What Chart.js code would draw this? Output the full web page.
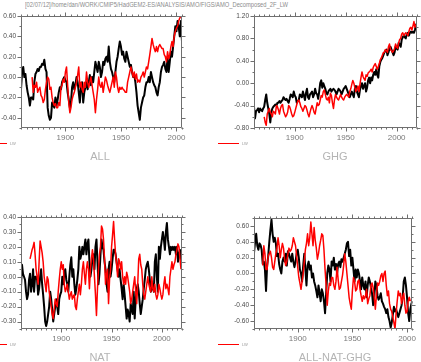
<!DOCTYPE html>
<html>
<head>
<meta charset="utf-8">
<script src="https://cdn.jsdelivr.net/npm/chart.js@4.4.1/dist/chart.umd.min.js"></script>
<style>
  body { margin: 0; background: #fff; }
  #page { position: relative; width: 421px; height: 362px; overflow: hidden;
          font-family: "Liberation Sans", Arial, sans-serif; }
  #page canvas { position: absolute; }
  .lbl { position: absolute; color: #b4b4b4; font-size: 11px; line-height: 11px;
         transform: translateX(-50%); white-space: nowrap; }
  .key { position: absolute; height: 0; border-top: 1.5px solid #ff0000; }
  .keytxt { position: absolute; font-size: 4px; line-height: 4px; color: #999; }
  #title { position: absolute; left: 25px; top: 1px; font-size: 7px; line-height: 7px;
           color: #8c8c8c; white-space: nowrap; transform-origin: 0 0; }
</style>
</head>
<body>
<div id="page">
  <div id="title">[02/07/12]/home/dan/WORK/CMIP5/HadGEM2-ES/ANALYSIS/AMO/FIGS/AMO_Decomposed_2F_LW</div>
  <canvas id="cAll" width="210" height="150" style="left:0;top:0"></canvas>
  <canvas id="cGhg" width="211" height="150" style="left:210px;top:0"></canvas>
  <canvas id="cNat" width="210" height="172" style="left:0;top:190px"></canvas>
  <canvas id="cAng" width="211" height="172" style="left:210px;top:190px"></canvas>

  <div class="key" style="left:-14px;top:143px;width:21px"></div><div class="keytxt" style="left:10px;top:142px">LW</div>
  <div class="key" style="left:218px;top:143px;width:21px"></div><div class="keytxt" style="left:242px;top:142px">LW</div>
  <div class="key" style="left:-14px;top:344px;width:21px"></div><div class="keytxt" style="left:10px;top:343px">LW</div>
  <div class="key" style="left:218px;top:344px;width:21px"></div><div class="keytxt" style="left:242px;top:343px">LW</div>

  <div class="lbl" style="left:100px;top:151px">ALL</div>
  <div class="lbl" style="left:335px;top:151px">GHG</div>
  <div class="lbl" style="left:100px;top:352px">NAT</div>
  <div class="lbl" style="left:335px;top:352px">ALL-NAT-GHG</div>
</div>
<script>
// ===== DATA (annual anomalies) =====

const yearTicks = [1900, 1950, 2000];

// ALL forcings
const allModelStart = 1860;
const allModel = [
  -0.12, 0.05, 0.10, 0.00, 0.03, -0.08, -0.15, -0.20, -0.28, -0.20,
  -0.20, -0.22, -0.05, 0.03, 0.05, 0.08, 0.06, 0.10, 0.10, 0.13,
  0.12, 0.17, 0.08, 0.05, -0.30, -0.38, -0.42, -0.40, -0.25, -0.28,
  -0.30, -0.20, -0.28, -0.22, -0.15, -0.10, -0.12, -0.05, -0.02, 0.00,
  -0.03, -0.05, -0.15, -0.22, -0.30, -0.25, -0.10, -0.05, -0.12, -0.08,
  0.00, -0.05, -0.15, -0.25, -0.10, -0.05, -0.25, -0.15, -0.10, -0.05,
  -0.12, -0.05, 0.02, -0.08, 0.00, -0.05, 0.05, 0.15, 0.10, 0.05,
  0.15, 0.10, 0.00, 0.05, 0.15, 0.12, 0.18, 0.20, 0.15, 0.30,
  0.15, 0.08, 0.05, 0.00, -0.05, 0.05, 0.15, 0.20, 0.28, 0.35,
  0.30, 0.22, 0.25, 0.18, 0.15, 0.25, 0.20, 0.15, 0.10, 0.12,
  0.05, 0.00, 0.02, -0.05, -0.15, -0.28, -0.35, -0.42, -0.30, -0.25,
  -0.20, -0.18, -0.10, -0.05, -0.05, 0.00, -0.05, 0.05, 0.00, -0.05,
  -0.08, -0.10, -0.15, -0.18, -0.10, -0.05, 0.05, 0.10, 0.12, 0.15,
  0.08, 0.05, 0.20, 0.05, 0.15, 0.25, 0.20, 0.30, 0.40, 0.50,
  0.45, 0.55, 0.50, 0.40, 0.55, 0.35
];
const allObsStart = 1870;
const allObs = [
  0.00, -0.15, -0.08, -0.10, -0.05, -0.15, -0.12, -0.10, -0.18, -0.20,
  -0.25, -0.22, -0.12, -0.05, 0.00, -0.02, -0.12, -0.10, -0.20, -0.25,
  -0.28, -0.26, -0.30, -0.30, -0.25, -0.28, -0.10, -0.08, -0.02, -0.05,
  0.05, 0.10, -0.08, -0.25, -0.35, -0.30, -0.22, -0.18, -0.15, -0.10,
  -0.05, 0.02, 0.10, -0.10, -0.05, -0.12, -0.15, -0.05, -0.10, 0.05,
  -0.05, -0.10, -0.05, 0.00, -0.08, -0.15, -0.22, -0.35, -0.22, -0.12,
  0.00, -0.08, -0.10, -0.05, -0.15, -0.08, 0.00, -0.03, -0.08, -0.12,
  -0.15, -0.10, -0.05, 0.00, -0.10, 0.05, 0.00, -0.10, -0.15, -0.10,
  -0.12, -0.10, -0.12, -0.13, -0.15, -0.15, -0.05, 0.00, 0.05, 0.10,
  0.05, 0.00, 0.05, -0.02, 0.03, -0.05, -0.03, -0.05, 0.00, 0.02,
  0.05, 0.00, 0.05, 0.10, 0.08, 0.15, 0.22, 0.30, 0.38, 0.32,
  0.28, 0.25, 0.30, 0.25, 0.30, 0.32, 0.30, 0.28, 0.28, 0.22,
  0.20, 0.15, 0.25, 0.18, 0.22, 0.30, 0.35, 0.30, 0.40, 0.45,
  0.48, 0.50, 0.55, 0.58, 0.60
];
const allYTicks = [-0.4, -0.2, 0, 0.2, 0.4, 0.6];

// GHG only
const ghgModelStart = 1860;
const ghgModel = [
  -0.42, -0.63, -0.50, -0.48, -0.45, -0.52, -0.45, -0.48, -0.50, -0.45,
  -0.42, -0.30, -0.20, -0.35, -0.45, -0.55, -0.70, -0.52, -0.45, -0.42,
  -0.40, -0.38, -0.40, -0.35, -0.35, -0.32, -0.35, -0.32, -0.30, -0.25,
  -0.28, -0.30, -0.28, -0.32, -0.35, -0.28, -0.20, -0.22, -0.25, -0.15,
  -0.22, -0.25, -0.35, -0.32, -0.30, -0.20, -0.22, -0.25, -0.15, -0.22,
  -0.30, -0.18, -0.10, -0.25, -0.28, -0.20, -0.18, -0.15, -0.25, -0.20,
  -0.10, -0.18, -0.20, -0.28, -0.15, 0.00, 0.05, -0.08, 0.00, -0.05,
  -0.10, -0.18, -0.20, -0.15, -0.12, -0.10, -0.15, -0.12, -0.10, -0.12,
  -0.15, -0.20, -0.15, -0.10, -0.12, -0.15, -0.20, -0.15, -0.10, -0.08,
  -0.05, -0.10, -0.15, -0.20, -0.25, -0.20, -0.15, -0.20, -0.25, -0.10,
  -0.05, -0.15, -0.20, -0.25, -0.12, -0.05, 0.00, -0.10, -0.05, 0.00,
  -0.15, -0.08, 0.05, 0.10, 0.00, 0.10, 0.05, 0.15, 0.20, 0.15,
  0.25, 0.15, 0.10, 0.30, 0.38, 0.42, 0.45, 0.50, 0.55, 0.58,
  0.60, 0.50, 0.55, 0.62, 0.65, 0.60, 0.55, 0.50, 0.55, 0.65,
  0.62, 0.60, 0.72, 0.70, 0.65, 0.78, 0.82, 0.85, 0.82, 0.80,
  0.88, 0.90, 0.85, 0.90, 0.92, 0.90, 0.92, 0.90, 0.95, 1.05,
  1.02
];
const ghgObsStart = 1870;
const ghgObs = [
  -0.60, -0.70, -0.75, -0.55, -0.50, -0.45, -0.52, -0.55, -0.60, -0.50,
  -0.52, -0.55, -0.40, -0.42, -0.48, -0.55, -0.45, -0.40, -0.38, -0.50,
  -0.55, -0.60, -0.57, -0.52, -0.40, -0.42, -0.48, -0.55, -0.60, -0.58,
  -0.52, -0.45, -0.38, -0.32, -0.30, -0.35, -0.42, -0.45, -0.50, -0.45,
  -0.40, -0.42, -0.48, -0.55, -0.60, -0.52, -0.45, -0.40, -0.45, -0.52,
  -0.55, -0.45, -0.35, -0.40, -0.38, -0.30, -0.22, -0.25, -0.15, -0.12,
  -0.20, -0.28, -0.30, -0.25, -0.35, -0.18, -0.22, -0.35, -0.45, -0.30,
  -0.20, -0.25, -0.28, -0.30, -0.25, -0.20, -0.25, -0.28, -0.30, -0.25,
  -0.22, -0.20, -0.22, -0.25, -0.15, -0.10, -0.02, 0.05, 0.00, -0.08,
  -0.15, -0.10, -0.05, -0.15, -0.02, 0.10, 0.20, 0.12, 0.08, 0.05,
  0.15, 0.12, 0.18, 0.20, 0.22, 0.25, 0.20, 0.28, 0.32, 0.35,
  0.30, 0.25, 0.30, 0.35, 0.42, 0.45, 0.50, 0.55, 0.55, 0.60,
  0.58, 0.55, 0.65, 0.70, 0.60, 0.58, 0.55, 0.58, 0.62, 0.70,
  0.65, 0.62, 0.72, 0.78, 0.80, 0.88, 0.90, 0.85, 0.88, 0.90,
  0.88, 0.85, 0.92, 0.98, 1.00, 0.95, 1.02, 1.10, 1.00, 1.05
];
const ghgYTicks = [-0.8, -0.4, 0, 0.4, 0.8, 1.2];

// natural forcings only
const natModelStart = 1860;
const natModel = [
  -0.07, 0.08, 0.02, 0.00, -0.02, -0.10, -0.15, -0.12, -0.02, 0.02,
  -0.10, -0.05, 0.05, -0.10, 0.00, 0.00, -0.02, -0.12, -0.08, 0.00,
  0.05, -0.05, -0.12, -0.20, -0.30, -0.33, -0.30, -0.25, -0.20, -0.10,
  -0.15, -0.22, -0.30, -0.25, -0.20, -0.15, -0.20, -0.25, -0.15, -0.12,
  -0.10, 0.00, -0.05, 0.02, 0.05, -0.02, -0.05, -0.10, 0.00, 0.08,
  0.13, 0.00, 0.05, -0.05, -0.12, -0.08, -0.02, 0.05, 0.20, 0.12,
  0.15, 0.20, 0.15, 0.20, 0.25, 0.15, 0.22, 0.25, 0.10, 0.00,
  0.05, 0.12, 0.15, 0.05, 0.20, 0.25, 0.10, -0.05, 0.02, 0.15,
  0.25, 0.20, 0.18, 0.10, 0.05, -0.05, -0.10, 0.05, 0.10, 0.00,
  0.05, 0.12, 0.18, 0.18, 0.15, 0.10, 0.05, 0.00, 0.05, -0.02,
  -0.08, -0.15, -0.05, -0.12, -0.20, -0.28, -0.22, -0.25, -0.30, -0.18,
  -0.22, -0.25, -0.10, -0.28, -0.15, -0.08, -0.05, -0.10, -0.18, -0.25,
  -0.20, -0.15, -0.08, -0.02, 0.05, 0.08, 0.10, 0.05, -0.02, -0.10,
  -0.08, -0.05, -0.10, 0.10, 0.15, 0.00, -0.10, 0.20, 0.12, 0.20,
  0.25, 0.30, 0.25, 0.18, 0.30, 0.36, 0.25, 0.20, 0.15, 0.20,
  0.18, 0.20, 0.18, 0.20, 0.15, 0.20, 0.10, 0.15, 0.18, 0.12,
  0.10
];
const natObsStart = 1869;
const natObs = [
  0.12,
  0.15, 0.18, 0.20, 0.23, 0.15, 0.05, 0.00, -0.05, 0.10, 0.24,
  0.20, 0.16, 0.10, 0.00, -0.05, -0.10, 0.00, -0.02, -0.10, -0.15,
  -0.20, -0.25, -0.28, -0.22, -0.15, -0.18, -0.20, -0.10, -0.02, 0.05,
  0.10, 0.05, 0.08, -0.05, -0.10, -0.08, -0.05, -0.10, -0.15, -0.12,
  -0.10, -0.15, -0.13, -0.12, -0.20, -0.22, -0.15, -0.10, -0.05, -0.12,
  -0.05, 0.05, 0.10, 0.02, -0.05, 0.05, 0.10, 0.05, -0.08, 0.05,
  0.12, 0.18, 0.12, 0.00, -0.12, -0.26, -0.08, 0.05, 0.15, 0.20,
  0.34, 0.32, 0.25, 0.12, -0.05, 0.02, 0.05, -0.18, -0.02, 0.05,
  0.20, 0.28, 0.37, 0.25, 0.15, 0.08, 0.00, 0.12, 0.10, 0.05,
  0.10, 0.00, -0.05, 0.00, -0.05, 0.03, 0.00, -0.05, -0.10, -0.18,
  -0.15, -0.10, -0.05, 0.00, -0.10, -0.18, -0.05, 0.12, 0.15, 0.08,
  0.05, -0.05, -0.12, -0.15, -0.10, -0.05, 0.00, -0.05, -0.08, -0.10,
  0.00, -0.08, -0.10, -0.05, -0.12, -0.15, -0.12, -0.05, -0.08, -0.12,
  -0.15, -0.12, -0.05, 0.00, -0.08, -0.05, -0.08, -0.12, 0.00, 0.05,
  0.10, 0.05, 0.08, 0.10, 0.15, 0.18, 0.22, 0.20, 0.12, 0.05
];
const natYTicks = [-0.3, -0.2, -0.1, 0, 0.1, 0.2, 0.3, 0.4];

// residual: ALL - NAT - GHG
const angModelStart = 1860;
const angModel = [
  0.26, 0.40, 0.50, 0.35, 0.30, 0.38, 0.36, 0.30, 0.12, 0.15,
  0.05, -0.22, 0.10, 0.22, 0.40, 0.55, 0.68, 0.50, 0.40, 0.45,
  0.38, 0.22, 0.25, 0.12, 0.05, 0.00, 0.15, 0.20, 0.15, 0.25,
  0.10, 0.28, 0.25, 0.20, 0.15, 0.25, 0.15, 0.08, 0.15, 0.25,
  0.30, 0.20, 0.05, 0.00, -0.10, 0.10, 0.25, 0.05, -0.15, 0.10,
  0.15, 0.05, 0.10, -0.05, 0.00, -0.10, -0.15, -0.22, -0.30, -0.15,
  -0.25, -0.35, -0.20, -0.25, -0.35, -0.50, -0.25, 0.00, 0.10, 0.05,
  -0.10, 0.15, 0.10, 0.20, 0.05, 0.12, 0.00, 0.12, 0.15, 0.08,
  0.18, 0.15, 0.20, 0.25, 0.30, 0.38, 0.40, 0.22, 0.30, 0.10,
  0.20, 0.05, -0.10, 0.05, -0.05, 0.05, 0.00, -0.10, -0.20, -0.05,
  -0.15, -0.20, -0.10, -0.30, -0.15, -0.05, -0.10, -0.18, -0.25, -0.40,
  -0.30, -0.10, -0.15, -0.28, -0.33, -0.30, -0.25, -0.35, -0.38, -0.42,
  -0.45, -0.50, -0.45, -0.55, -0.60, -0.68, -0.62, -0.52, -0.42, -0.48,
  -0.45, -0.50, -0.55, -0.50, -0.45, -0.40, -0.30, -0.10, -0.05, -0.15,
  -0.30, -0.50, -0.60, -0.45, -0.38, -0.35
];
const angObsStart = 1868;
const angObs = [
  0.10, 0.35,
  0.25, 0.05, 0.05, 0.22, 0.25, 0.28, 0.20, 0.08, 0.05, 0.15,
  0.25, 0.32, 0.45, 0.35, 0.20, 0.30, 0.38, 0.32, 0.18, 0.10,
  0.15, 0.25, 0.32, 0.28, 0.30, 0.35, 0.45, 0.40, 0.35, 0.22,
  0.08, -0.05, -0.12, -0.20, -0.10, 0.00, 0.15, 0.30, 0.38, 0.50,
  0.35, 0.45, 0.65, 0.50, 0.35, 0.58, 0.42, 0.32, 0.18, 0.25,
  0.35, 0.42, 0.50, 0.48, 0.30, 0.05, -0.15, -0.40, -0.22, -0.12,
  -0.15, -0.05, -0.05, -0.15, -0.20, -0.10, 0.08, -0.08, -0.20, -0.18,
  -0.10, -0.02, 0.10, 0.25, 0.15, 0.00, -0.15, -0.30, -0.38, -0.45,
  -0.22, -0.05, -0.10, -0.22, -0.20, -0.10, -0.08, -0.20, -0.28, -0.35,
  -0.28, -0.32, -0.28, -0.20, -0.38, -0.32, -0.28, -0.15, -0.12, -0.18,
  -0.30, -0.45, -0.28, -0.12, -0.15, -0.10, -0.03, 0.00, -0.10, 0.00,
  0.03, -0.15, -0.28, -0.22, -0.38, -0.45, -0.48, -0.55, -0.62, -0.70,
  -0.50, -0.35, -0.22, -0.28, -0.25, -0.38, -0.30, -0.25, -0.40, -0.50,
  -0.48, -0.35, -0.30, -0.35
];
const angYTicks = [-0.6, -0.4, -0.2, 0, 0.2, 0.4, 0.6];

// ===== helpers =====

function toPoints(start, vals) {
  return vals.map((v, i) => ({ x: start + i, y: v }));
}

// box + outward major/minor ticks on all four sides (NCL look)
const frameTicks = {
  id: "frameTicks",
  afterDatasetsDraw(chart, args, o) {
    const { ctx, chartArea: a } = chart;
    const xs = chart.scales.x, ys = chart.scales.y;
    const L = Math.round(a.left) + 0.5, R = Math.round(a.right) - 0.5;
    const T = Math.round(a.top) + 0.5, B = Math.round(a.bottom) - 0.5;
    ctx.save();
    ctx.strokeStyle = "#6f6f6f";
    ctx.lineWidth = 1;
    ctx.beginPath();
    ctx.rect(L, T, R - L, B - T);

    const nx = Math.round((xs.max - xs.min) / o.xMinor);
    for (let i = 0; i <= nx; i++) {
      const v = xs.min + i * o.xMinor;
      const len = v % 50 === 0 ? 4 : 2;
      const px = Math.round(xs.getPixelForValue(v)) + 0.5;
      ctx.moveTo(px, B); ctx.lineTo(px, B + len);
      ctx.moveTo(px, T); ctx.lineTo(px, T - len);
    }
    const ny = Math.round((ys.max - ys.min) / o.yMinor);
    for (let i = 0; i <= ny; i++) {
      const v = ys.min + i * o.yMinor;
      const r = v / o.yMajor;
      const len = Math.abs(r - Math.round(r)) < 1e-6 ? 4 : 2;
      const py = Math.round(ys.getPixelForValue(v)) + 0.5;
      ctx.moveTo(L, py); ctx.lineTo(L - len, py);
      ctx.moveTo(R, py); ctx.lineTo(R + len, py);
    }
    ctx.stroke();
    ctx.restore();
  }
};

function drawPanel(id, p) {
  const ctx = document.getElementById(id).getContext("2d");
  return new Chart(ctx, {
    type: "line",
    data: {
      datasets: [
        {
          label: "LW",
          data: toPoints(p.obsStart, p.obs),
          borderColor: "#ff0000",
          borderWidth: 1.5,
          pointRadius: 0,
          borderJoinStyle: "round",
          tension: 0
        },
        {
          label: "model",
          data: toPoints(p.modelStart, p.model),
          borderColor: "#000000",
          borderWidth: 2,
          pointRadius: 0,
          borderJoinStyle: "round",
          tension: 0
        }
      ]
    },
    options: {
      responsive: false,
      animation: false,
      events: [],
      layout: { padding: { top: p.padTop, right: p.padRight, left: 0, bottom: 0 } },
      plugins: {
        legend: { display: false },
        tooltip: { enabled: false },
        frameTicks: { xMinor: 5, yMinor: p.yMinor, yMajor: p.yMajor }
      },
      scales: {
        x: {
          type: "linear",
          min: p.xMin,
          max: p.xMax,
          grid: { display: false, drawTicks: false, tickLength: 0 },
          border: { display: false },
          afterBuildTicks: s => { s.ticks = yearTicks.map(v => ({ value: v })); },
          afterFit: s => { s.height = p.xAxisH; },
          ticks: {
            autoSkip: false,
            maxRotation: 0,
            padding: 5,
            color: "#7a7a7a",
            font: { size: 8, family: "Liberation Sans" },
            callback: v => String(v)
          }
        },
        y: {
          min: p.yMin,
          max: p.yMax,
          grid: { display: false, drawTicks: false, tickLength: 0 },
          border: { display: false },
          afterBuildTicks: s => { s.ticks = p.yTicks.map(v => ({ value: v })); },
          afterFit: s => { s.width = p.yAxisW; },
          ticks: {
            autoSkip: false,
            padding: 5,
            color: "#4a4a4a",
            font: { size: 6.5, family: "Liberation Sans" },
            callback: v => v.toFixed(2)
          }
        }
      }
    },
    plugins: [frameTicks]
  });
}

// ===== PANELS =====

drawPanel("cAll", {
  model: allModel, modelStart: allModelStart, obs: allObs, obsStart: allObsStart,
  xMin: 1860, xMax: 2005, yMin: -0.5, yMax: 0.6, yTicks: allYTicks, yMajor: 0.2, yMinor: 0.1,
  padTop: 16, padRight: 28, yAxisW: 21, xAxisH: 22
});
drawPanel("cGhg", {
  model: ghgModel, modelStart: ghgModelStart, obs: ghgObs, obsStart: ghgObsStart,
  xMin: 1860, xMax: 2020, yMin: -0.8, yMax: 1.2, yTicks: ghgYTicks, yMajor: 0.4, yMinor: 0.2,
  padTop: 16, padRight: 4, yAxisW: 44, xAxisH: 22
});
drawPanel("cNat", {
  model: natModel, modelStart: natModelStart, obs: natObs, obsStart: natObsStart,
  xMin: 1860, xMax: 2020, yMin: -0.35, yMax: 0.4, yTicks: natYTicks, yMajor: 0.1, yMinor: 0.05,
  padTop: 27, padRight: 28, yAxisW: 21, xAxisH: 33
});
drawPanel("cAng", {
  model: angModel, modelStart: angModelStart, obs: angObs, obsStart: angObsStart,
  xMin: 1860, xMax: 2005, yMin: -0.7, yMax: 0.7, yTicks: angYTicks, yMajor: 0.2, yMinor: 0.1,
  padTop: 28, padRight: 2, yAxisW: 44, xAxisH: 33
});

// stretch the path title to the width it has in the figure
const title = document.getElementById("title");
const tw = title.getBoundingClientRect().width;
title.style.transform = "scaleX(" + (263 / tw).toFixed(3) + ")";
</script>
</body>
</html>
